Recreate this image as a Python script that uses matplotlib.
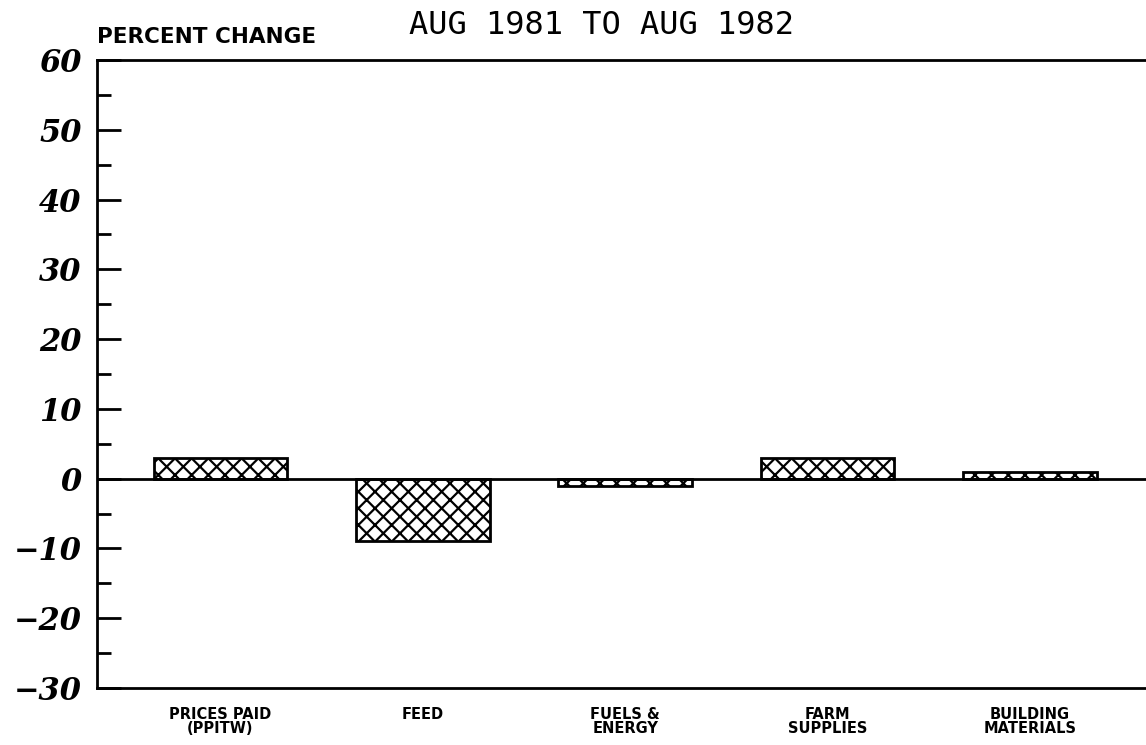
import matplotlib.pyplot as plt
from matplotlib.ticker import MultipleLocator

categories = ['PRICES PAID\n(PPITW)', 'FEED', 'FUELS &\nENERGY', 'FARM\nSUPPLIES', 'BUILDING\nMATERIALS']
changes = [3.0, -8.9, -1.0, 3.0, 1.0]
y_ticks = [60, 50, 40, 30, 20, 10, 0, -10, -20, -30]

plt.rcParams['hatch.linewidth'] = 1.6

fig = plt.figure(figsize=(11.46, 7.45), dpi=100)
ax = fig.add_axes([0.0846, 0.0765, 0.92, 0.843])

x = list(range(len(categories)))
ax.bar(x, changes, width=0.66, facecolor='white', edgecolor='black',
       linewidth=2, hatch='xx', zorder=3)
ax.axhline(0, color='black', linewidth=2, zorder=4)

ax.set_xlim(-0.61, 4.6)
ax.set_ylim(-30, 60)

ax.spines['right'].set_visible(False)
for s in ['left', 'top', 'bottom']:
    ax.spines[s].set_linewidth(2)

ax.set_yticks(y_ticks)
ax.set_yticklabels([str(v).replace('-', '\u2212') for v in y_ticks], fontsize=22,
                   fontweight='bold', fontstyle='italic', family='DejaVu Serif')
ax.yaxis.set_minor_locator(MultipleLocator(5))
ax.tick_params(axis='y', which='major', direction='in', length=17, width=2, pad=11)
ax.tick_params(axis='y', which='minor', direction='in', length=10, width=2)

ax.set_xticks(x)
ax.set_xticklabels(categories, fontsize=10.5, fontweight='bold',
                   family='DejaVu Sans', linespacing=0.9)
ax.tick_params(axis='x', length=0, pad=14)

fig.text(0.0846, 0.951, 'PERCENT CHANGE', fontsize=15.5, fontweight='bold',
         family='DejaVu Sans', va='center', ha='left')
fig.text(0.525, 0.966, 'AUG 1981 TO AUG 1982', fontsize=23,
         family='DejaVu Sans Mono', va='center', ha='center')

fig.savefig('out.png', dpi=100)
